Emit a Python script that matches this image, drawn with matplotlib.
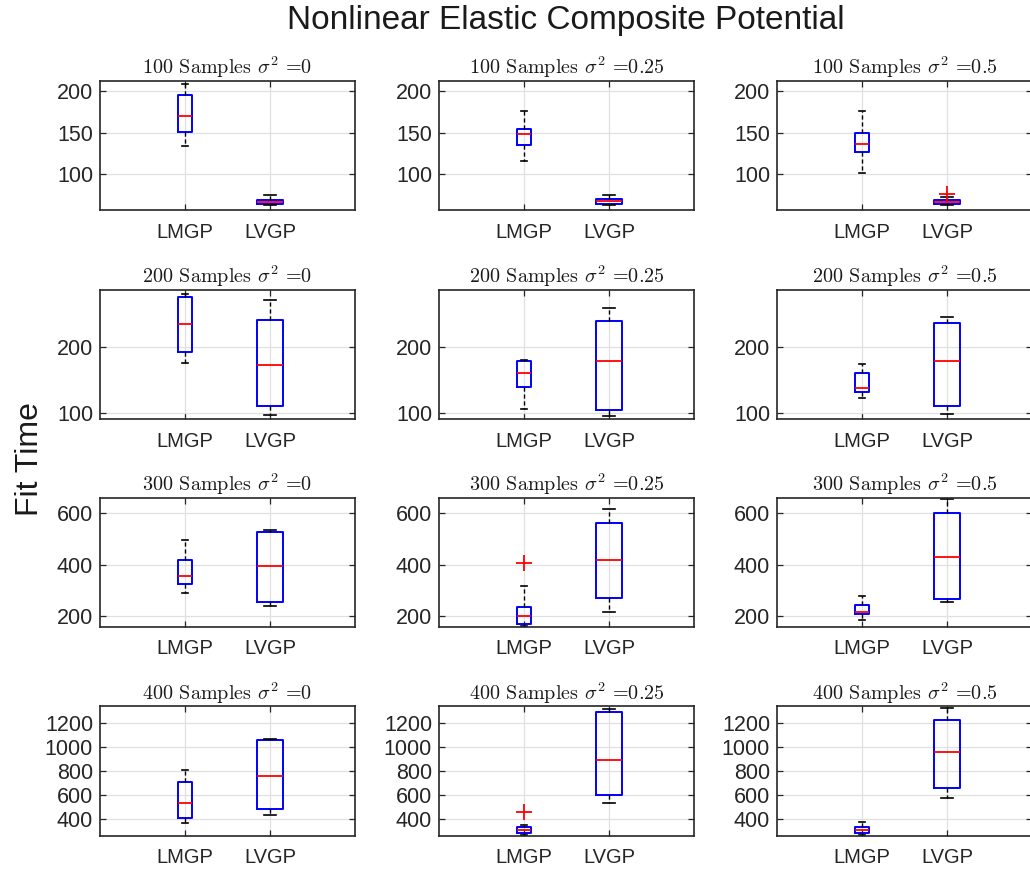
import numpy as np
import matplotlib.pyplot as plt
from matplotlib.ticker import MultipleLocator

plt.rcParams['font.family'] = ['Liberation Sans', 'DejaVu Sans']
plt.rcParams['mathtext.fontset'] = 'cm'

samples = [100, 200, 300, 400]
noise = ['0', '0.25', '0.5']
methods = ['LMGP', 'LVGP']

# box statistics, rows = sample size, columns = noise level
lmgp_lo = [[134.6, 116.5, 101.6], [176, 105, 122.4], [289, 161, 184.8], [367, 269.6, 272]]
lmgp_q1 = [[151.6, 135.9, 127], [192.8, 138.7, 131], [324, 170.3, 208], [411.7, 286.3, 286]]
lmgp_med = [[169.7, 148.4, 136.7], [236, 160.2, 137.7], [356.6, 200.4, 217], [531, 308.6, 308.6]]
lmgp_q3 = [[195.6, 154.8, 150.4], [278, 178.6, 160.7], [416.4, 236.7, 243.3], [710, 336.5, 334]]
lmgp_hi = [[209, 175.8, 176.2], [282, 181, 175], [497.3, 317.6, 277.3], [810.4, 355.7, 378]]
lmgp_out = [[[], [], []], [[], [], []], [[], [405], []], [[], [459], []]]

lvgp_lo = [[62.5, 62.5, 63.6], [95.8, 94.9, 97.4], [239.5, 216, 253.9], [431, 531, 576.4]]
lvgp_q1 = [[64, 63.7, 64.4], [109.6, 103.5, 110.7], [256, 270.7, 266.8], [484.4, 598, 662.5]]
lvgp_med = [[66.5, 67.7, 66.8], [172.9, 179, 178.5], [393, 419, 429.7], [760, 894, 957.6]]
lvgp_q3 = [[69, 70.5, 69.3], [242.9, 241.3, 238.3], [527.3, 562.5, 601.6], [1063.7, 1297.8, 1228]]
lvgp_hi = [[75, 75, 73], [273, 261.3, 246.4], [533.6, 617, 653.5], [1069.6, 1317, 1325]]
lvgp_out = [[[], [], [76]], [[], [], []], [[], [], []], [[], [], []]]

row_ylim = [(57, 213), (90, 289), (157, 661), (260, 1340)]
row_step = [50, 100, 200, 200]

fig = plt.figure(figsize=(10.30, 8.69), dpi=100)
lefts = [0.0971, 0.4262, 0.7544]
bottoms = [0.7583, 0.5178, 0.2785, 0.0380]
w, h = 0.2476, 0.1490
frame = '#262626'

for i, n in enumerate(samples):
    for j, s in enumerate(noise):
        ax = fig.add_axes([lefts[j], bottoms[i], w, h])
        stats = [
            dict(whislo=lmgp_lo[i][j], q1=lmgp_q1[i][j], med=lmgp_med[i][j],
                 q3=lmgp_q3[i][j], whishi=lmgp_hi[i][j], fliers=lmgp_out[i][j]),
            dict(whislo=lvgp_lo[i][j], q1=lvgp_q1[i][j], med=lvgp_med[i][j],
                 q3=lvgp_q3[i][j], whishi=lvgp_hi[i][j], fliers=lvgp_out[i][j]),
        ]
        ax.bxp(stats, positions=[1, 2], widths=[0.16, 0.30],
               boxprops=dict(color='#0000ff', lw=1.4),
               medianprops=dict(color='#ff0000', lw=1.3),
               whiskerprops=dict(color='black', lw=1.0, ls=(0, (3, 2))),
               capprops=dict(color='black', lw=1.2),
               flierprops=dict(marker='+', markeredgecolor='#ff0000',
                               markersize=11, markeredgewidth=1.3, ls='none'))
        ax.set_xlim(0, 3)
        ax.set_ylim(*row_ylim[i])
        ax.yaxis.set_major_locator(MultipleLocator(row_step[i]))
        ax.set_xticks([1, 2], methods)
        ax.set_axisbelow(True)
        ax.grid(True, color='#e0e0e0', lw=0.9)
        ax.tick_params(direction='in', length=4, width=0.9, colors=frame,
                       labelsize=14.5, top=True, right=True, pad=6)
        ax.tick_params(axis='y', labelsize=15.5, pad=5)
        ax.tick_params(axis='x', pad=9)
        for sp in ax.spines.values():
            sp.set_color(frame)
            sp.set_linewidth(1.2)
        ax.set_title(f'{n} Samples $\\sigma^2$ ={s}', family='cmr10',
                     fontsize=14.5, pad=5, color='#1a1a1a')

fig.text(566 / 1030, 1 - 21 / 869, 'Nonlinear Elastic Composite Potential',
         ha='center', va='center', fontsize=24, color='#1a1a1a')
fig.text(30 / 1030, 1 - 459 / 869, 'Fit Time', rotation=90,
         ha='center', va='center', fontsize=23, color='#1a1a1a')

fig.savefig('out.png', dpi=100)
